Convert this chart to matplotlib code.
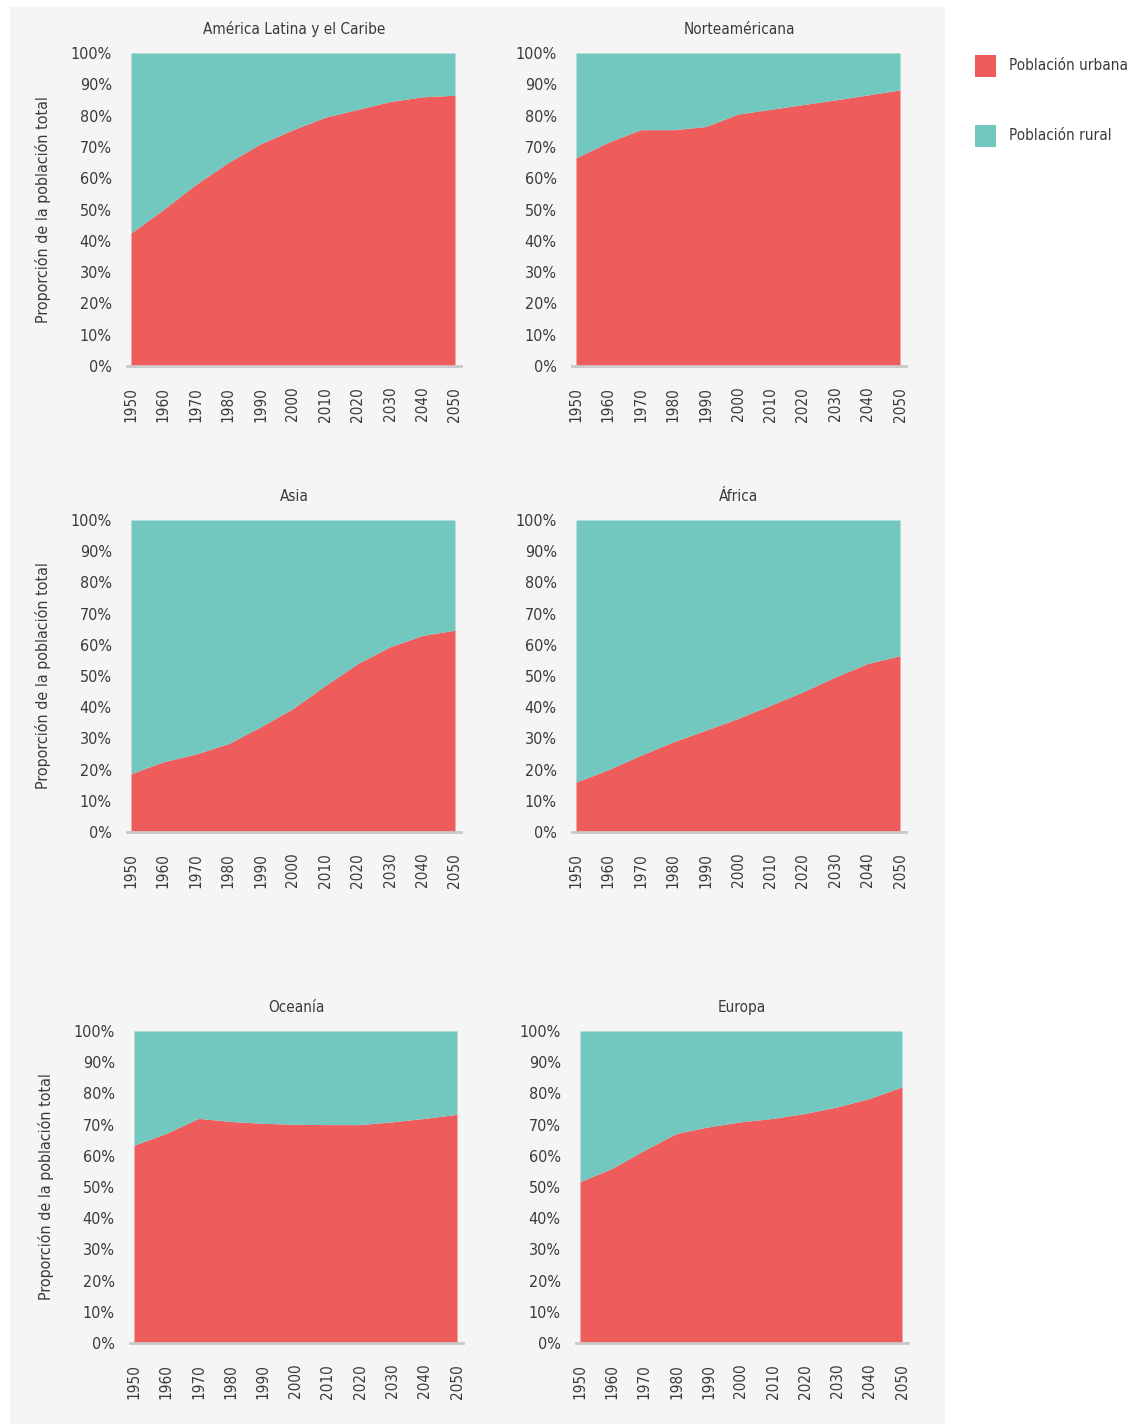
import matplotlib
matplotlib.use("Agg")
import matplotlib.pyplot as plt
from matplotlib import font_manager
from matplotlib.patches import Rectangle
from matplotlib.ticker import FuncFormatter

# ---------------- data ----------------
years = [1950, 1960, 1970, 1980, 1990, 2000, 2010, 2020, 2030, 2040, 2050]
regions = ["América Latina y el Caribe", "Norteaméricana", "Asia", "África", "Oceanía", "Europa"]
urban_latam = [42.5, 50, 58, 65, 71, 75.5, 79.5, 82, 84.5, 86, 86.5]
urban_namer = [66.5, 71.5, 75.5, 75.5, 76.5, 80.5, 82, 83.5, 85, 86.6, 88.2]
urban_asia = [18.7, 22.5, 25, 28.3, 33.7, 39.6, 47, 54, 59.4, 63, 64.7]
urban_africa = [16, 20, 24.6, 28.9, 32.6, 36.4, 40.6, 44.9, 49.7, 54, 56.5]
urban_oceania = [63.4, 67.2, 72, 71, 70.4, 70.1, 70, 70, 70.9, 72, 73.3]
urban_europe = [51.7, 56, 61.8, 67.2, 69.3, 70.9, 72, 73.6, 75.7, 78.4, 82.1]
urban_series = [urban_latam, urban_namer, urban_asia, urban_africa, urban_oceania, urban_europe]
y_ticks = [0, 10, 20, 30, 40, 50, 60, 70, 80, 90, 100]
legend_labels = ["Población urbana", "Población rural"]
ylabel_text = "Proporción de la población total"

# ---------------- style ----------------
RED = "#EE5C5C"
TEAL = "#72C7BE"
BG = "#F5F5F5"
TXT = "#3a3a3a"

avail = {f.name for f in font_manager.fontManager.ttflist}
if "Liberation Sans Narrow" in avail:
    FONT = {"family": "Liberation Sans Narrow"}
else:
    FONT = {"family": "DejaVu Sans", "stretch": "condensed"}

W, H = 1148, 1424
fig = plt.figure(figsize=(W / 100, H / 100), dpi=100)
fig.patch.set_facecolor("white")

# gray backdrop
fig.patches.append(Rectangle((10 / W, 0), (945 - 10) / W, 1 - 7 / H,
                             transform=fig.transFigure, facecolor=BG,
                             edgecolor="none", zorder=-10))

# panel pixel boxes: (fill_left, fill_right, top, bottom)
boxes = [
    (131, 455, 53, 366),
    (576, 900, 53, 366),
    (131, 455, 520, 832),
    (576, 900, 520, 832),
    (134, 457, 1031, 1343),
    (580, 902, 1031, 1343),
]
ext_l, ext_r = 4, 6  # spine overhang in px

for i, (reg, urb, (xl, xr, yt, yb)) in enumerate(zip(regions, urban_series, boxes)):
    al = xl - ext_l
    ar = xr + ext_r
    ax = fig.add_axes([al / W, 1 - yb / H, (ar - al) / W, (yb - yt) / H])
    ax.set_facecolor("none")
    pxyr = (xr - xl) / (years[-1] - years[0])
    ax.set_xlim(years[0] - ext_l / pxyr, years[-1] + ext_r / pxyr)
    ax.set_ylim(0, 100)
    ax.fill_between(years, 0, urb, color=RED, linewidth=0, zorder=2)
    ax.fill_between(years, urb, 100, color=TEAL, linewidth=0, zorder=2)
    for s in ["top", "right", "left"]:
        ax.spines[s].set_visible(False)
    ax.spines["bottom"].set_color("#c9c9c9")
    ax.spines["bottom"].set_linewidth(2)
    ax.spines["bottom"].set_zorder(3)
    ax.set_xticks(years)
    ax.set_xticklabels([str(y) for y in years], rotation=90, color=TXT,
                       fontsize=11, **FONT)
    ax.set_yticks(y_ticks)
    ax.yaxis.set_major_formatter(FuncFormatter(lambda v, p: f"{int(v)}%"))
    for lab in ax.get_yticklabels():
        lab.set_color(TXT)
        lab.set_fontsize(11.5)
        lab.set_fontfamily(FONT["family"])
        if "stretch" in FONT:
            lab.set_fontstretch(FONT["stretch"])
    ax.tick_params(axis="both", length=0)
    ax.tick_params(axis="x", pad=15)
    ax.tick_params(axis="y", pad=11)
    ax.set_title(reg, fontsize=11, color=TXT, pad=14, **FONT)
    if i % 2 == 0:
        ax.set_ylabel(ylabel_text, fontsize=11.5, color=TXT, labelpad=14, **FONT)

# legend
for (lab, col, ycen) in [(legend_labels[0], RED, 66), (legend_labels[1], TEAL, 136)]:
    fig.patches.append(Rectangle((975 / W, 1 - (ycen + 11) / H), 21 / W, 22 / H,
                                 transform=fig.transFigure, facecolor=col,
                                 edgecolor="none"))
    fig.text(1009 / W, 1 - ycen / H, lab, fontsize=11, color=TXT,
             va="center", ha="left", **FONT)

fig.savefig("out.png", dpi=100, facecolor="white")
